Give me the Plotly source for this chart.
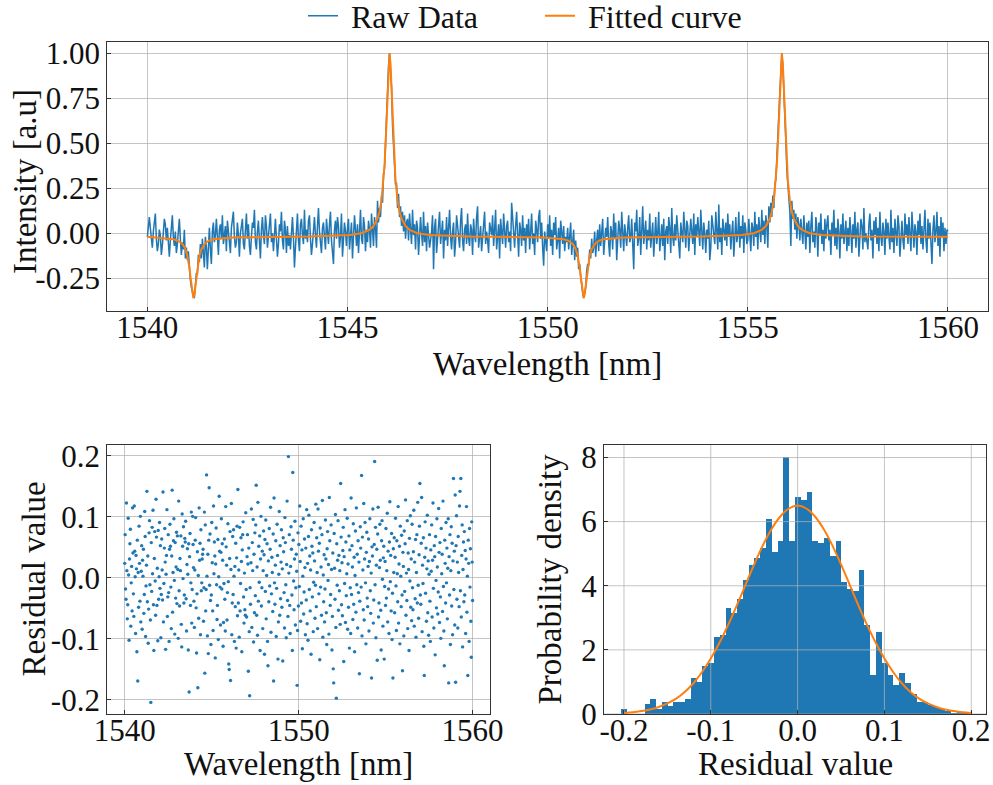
import numpy as np
import plotly.graph_objects as go

BLUE = "#1f77b4"
ORANGE = "#ff7f0e"
FONT = "Liberation Serif"
FRAME = "#333333"
GRID = "rgba(176,176,176,0.75)"

# ---------------- data ----------------
# Raw spectrum in units of 0.01 (a.u.), sampled every 0.025 nm from 1540.000 nm
# (one row = 0.5 nm)
raw_start_nm = 1540.0
raw_step_nm = 0.025
raw_rows_centi = [
    [-2, 4, 9, 3, -5, -8, 1, 6, 11, -3, -10, -6, 2, -1, -12, -7, 3, 8, 5, -4],
    [3, -9, -13, -4, 6, 10, -2, -7, 1, -11, -6, 5, 8, -3, -12, -5, -9, 2, -14, -8],
    [-15, -10, -21, -26, -30, -33, -35, -36, -27, -22, -23, -12, -16, -6, -14, -3, -11, -19, -2, -8],
    [-20, -4, 3, -9, -17, 1, 6, -5, -1, 8, -7, -12, 2, 5, -3, 10, -6, -2, 4, -10],
    [7, 1, -4, -11, 3, 9, 12, -2, -8, -5, 6, -1, -13, 0, 4, 8, -6, -9, 2, 11],
    [-3, 5, -7, -12, -2, 6, 3, 13, -5, -9, 1, 7, -4, -14, 2, 9, -1, -6, 10, 4],
    [-8, -2, 6, 11, -5, 0, -10, 3, 8, -3, -13, -6, 5, 1, 12, -4, -9, 7, 2, -11],
    [4, -7, -1, -9, 3, 9, -2, -19, -8, 1, 11, -4, -10, 5, 8, -1, -6, 13, -3, 2],
    [-5, 7, 10, -3, -12, -6, 2, 9, -1, -8, 4, 14, 1, -7, -11, 3, 6, -2, -9, 8],
    [0, -6, 5, 12, -4, -10, -17, 2, 7, -3, 9, 4, -8, -2, 11, -13, -5, 6, 1, -7],
    [3, 8, -9, -1, 6, -14, -4, 10, 2, -7, 5, -11, 1, 13, -3, -6, 9, 4, -10, 2],
    [-5, 7, 2, -8, 11, 4, -7, 9, 3, -8, 18, 6, 14, 9, 21, 17, 33, 36, 52, 61],
    [79, 93, 100, 92, 81, 60, 50, 35, 27, 28, 14, 22, 9, 15, 4, 12, 1, 10, -3, 6],
    [8, -4, 11, 2, -6, 13, -1, 5, -9, 7, 3, -12, -2, 9, 0, -7, 12, -5, 4, -10],
    [6, -3, -8, -4, 1, 10, -20, 3, 8, -11, -2, 5, 12, -6, -1, 7, -14, 2, -4, 9],
    [-7, 4, 13, -2, -9, 1, 6, -13, -5, 10, 3, -1, -8, 7, 14, -4, -10, 2, 5, -6],
    [11, -3, -7, 5, 2, -12, 8, -1, -5, 9, 15, -8, 0, 4, -10, -3, 7, 12, -6, 1],
    [-4, -11, 6, 3, -1, 10, -7, 2, 13, -9, -3, 5, -14, 8, 1, -6, 11, -2, -8, 4],
    [7, -5, 1, -10, 17, 9, -3, -8, 4, 12, -1, -13, 6, 2, -7, 10, -4, 3, -11, 5],
    [-2, 8, -9, 4, 11, -6, 0, -12, 7, 2, -5, 9, 13, -3, 6, -8, -18, 1, -4, -10],
    [5, -3, 10, -7, 2, -12, 6, -1, 9, -9, -4, 3, -14, 7, 1, -6, 4, -10, -2, -5],
    [3, -9, -2, 6, -12, -5, 2, -15, -4, -13, -8, -20, -17, -24, -31, -33, -36, -32, -30, -21],
    [-17, -18, -9, -14, -3, -11, -8, 1, -13, -4, 2, -10, 5, -7, -1, 8, -12, -5, 3, -2],
    [9, -6, -13, 4, 1, -9, 11, -3, 6, -15, -1, 7, 2, -8, 12, -4, -10, 5, 0, -7],
    [3, 10, -5, -2, 8, -11, -20, 6, 1, 13, -7, -3, 9, -12, 4, 15, -6, -1, 7, -9],
    [2, -4, 11, -8, -1, 6, -13, 3, 9, -6, 0, 12, -10, -3, 5, -7, 8, -15, 1, 4],
    [-6, 9, 3, -11, 14, -2, -7, 5, -4, 10, 1, -9, -14, 6, 2, -5, 12, -1, -8, 7],
    [4, -10, -3, 8, 1, -6, 11, -12, 5, -2, 9, 3, -7, 13, -4, -9, 6, 0, -11, 2],
    [-3, 7, -15, -8, 10, 4, -1, -6, 12, 2, -9, 16, -5, 3, -12, 8, 1, -4, 6, -7],
    [11, -2, 5, -9, 0, 7, -13, 3, 9, -5, -1, 12, -8, 4, -3, 10, -11, 6, 2, -6],
    [-4, 8, 1, -10, 6, 3, -7, 12, -2, 5, -9, 9, 2, -5, 13, -1, 7, -6, 10, 4],
    [-8, 15, 6, 17, 9, 21, 14, 27, 30, 41, 47, 66, 78, 95, 100, 93, 81, 62, 51, 35],
    [27, 25, 12, -7, 18, 8, 13, 2, 11, -3, 9, 5, -4, 8, 1, -6, 10, 3, -9, 6],
    [-2, 7, -11, 4, 12, -5, 1, -8, 9, 3, -13, 6, -1, 11, -6, 2, -10, 8, -3, 5],
    [10, -4, 2, -12, 6, -1, 13, -7, 3, -9, 8, 1, -14, 5, -3, 11, -6, 0, 7, -10],
    [3, -7, 9, 1, -11, 5, -3, 12, -8, 2, 6, -13, -1, 8, 4, -9, 14, -5, 0, -6],
    [-9, 5, 11, -4, 2, -14, 7, -1, 9, -6, 3, -10, 12, -2, -7, 6, 1, -12, 8, -3],
    [6, -2, -9, 13, -5, 3, -11, 8, 0, -7, 10, 4, -13, 2, 7, -4, -9, 11, -1, 5],
    [-6, 9, 2, -10, 12, -3, -8, 5, 1, -12, 7, -1, 11, -6, 4, -9, 3, 13, -4, -11],
    [8, -3, 6, -9, -17, 2, 10, -5, 1, 12, -7, 4, -13, 9, -2, 6, -10, 3, -6, 2],
    [1],
]

# Fitted curve
fit_wavelength = [
    1540.00, 1540.15, 1540.65, 1540.75, 1540.85, 1540.90, 1540.95, 1541.00, 1541.025, 1541.05,
    1541.075, 1541.10, 1541.125, 1541.15, 1541.175, 1541.20, 1541.225, 1541.25, 1541.275, 1541.30,
    1541.35, 1541.40, 1541.45, 1541.55, 1541.65, 1542.15, 1543.00,
    1544.05, 1545.05, 1545.35, 1545.55, 1545.65, 1545.75, 1545.80, 1545.85, 1545.90, 1545.925,
    1545.95, 1545.975, 1546.00, 1546.025, 1546.05, 1546.075, 1546.10, 1546.125, 1546.15, 1546.175,
    1546.20, 1546.25, 1546.30, 1546.35, 1546.45, 1546.55, 1546.75, 1547.05, 1548.05,
    1549.90, 1550.40, 1550.50, 1550.60, 1550.65, 1550.70, 1550.75, 1550.775, 1550.80, 1550.825,
    1550.85, 1550.875, 1550.90, 1550.925, 1550.95, 1550.975, 1551.00, 1551.025, 1551.05, 1551.10,
    1551.15, 1551.20, 1551.30, 1551.40, 1551.90, 1552.90,
    1553.85, 1554.85, 1555.15, 1555.35, 1555.45, 1555.55, 1555.60, 1555.65, 1555.70, 1555.725,
    1555.75, 1555.775, 1555.80, 1555.825, 1555.85, 1555.875, 1555.90, 1555.925, 1555.95, 1555.975,
    1556.00, 1556.05, 1556.10, 1556.15, 1556.25, 1556.35, 1556.55, 1556.85, 1557.85, 1560.00,
]
fit_intensity = [
    -0.020, -0.023, -0.033, -0.040, -0.054, -0.067, -0.088, -0.125, -0.153, -0.190,
    -0.238, -0.292, -0.340, -0.360, -0.340, -0.292, -0.238, -0.190, -0.153, -0.125,
    -0.088, -0.067, -0.054, -0.040, -0.033, -0.023, -0.021,
    -0.018, -0.010, 0.000, 0.019, 0.040, 0.082, 0.121, 0.184, 0.294, 0.378,
    0.490, 0.633, 0.796, 0.940, 1.000, 0.940, 0.796, 0.633, 0.490, 0.378,
    0.294, 0.184, 0.121, 0.082, 0.040, 0.019, 0.000, -0.010, -0.018,
    -0.023, -0.033, -0.040, -0.054, -0.067, -0.088, -0.125, -0.153, -0.190, -0.238,
    -0.292, -0.340, -0.360, -0.340, -0.292, -0.238, -0.190, -0.153, -0.125, -0.088,
    -0.067, -0.054, -0.040, -0.033, -0.023, -0.021,
    -0.018, -0.010, 0.000, 0.019, 0.040, 0.082, 0.121, 0.184, 0.294, 0.378,
    0.490, 0.633, 0.796, 0.940, 1.000, 0.940, 0.796, 0.633, 0.490, 0.378,
    0.294, 0.184, 0.121, 0.082, 0.040, 0.019, 0.000, -0.010, -0.018, -0.020,
]

# Residuals in units of 0.001, evenly spread over 1540-1560 nm (one row = 0.5 nm)
residual_start_nm = 1540.0
residual_end_nm = 1560.0
residual_rows_milli = [
    [24, 71, -18, -35, 123, 12, -67, -44, 98, 5, -102, 31, 56, 80, -79, -8, 19, -54, 115, 41],
    [-26, -63, 118, 44, 2, -91, 37, 15, -121, 62, -169, 9, -48, 85, 24, -38, 101, -72, 11, 53],
    [-84, 29, 3, 47, -58, -27, 109, 68, -96, -13, 21, 142, -39, 36, -107, -51, 74, 94, -11, -69],
    [-204, 58, -22, 83, 7, 111, -44, -119, 32, 76, -5, -61, 129, 67, -45, 16, -103, 78, -35, 2],
    [91, -17, 53, -98, -27, 64, 13, -36, 141, -72, -9, 49, 81, 26, -117, 6, 37, 112, -63, -31],
    [71, -24, -104, 47, 88, 52, -15, -83, 36, 144, -56, 9, 61, 97, -4, -92, 58, -33, 18, 75],
    [-42, 69, 14, -99, 126, -21, -46, 32, 12, 69, -76, -113, 105, 52, -1, 84, -41, -28, 65, 59],
    [93, -34, -87, 22, 48, 6, -118, 56, -187, 35, 73, -45, -8, 108, -74, -19, 101, 55, 17, -38],
    [-81, 13, 62, 99, -49, -123, -26, 43, -180, 4, -66, 115, 29, 57, -93, 79, -21, -8, 31, 39],
    [47, -71, -16, 108, -156, 87, -54, -19, 169, 3, -95, 39, -124, 62, 148, -12, 72, -37, -109, -28],
    [91, 25, -54, -86, 118, 7, 59, 36, -131, 23, 82, -11, -68, -45, 63, -101, 2, 134, 44, -15],
    [-77, 42, 97, -18, 56, 29, -112, -73, -9, 64, -35, -87, 117, 51, 21, -69, -24, 89, -6, -141],
    [-150, 32, 76, -168, 14, 122, -93, -41, 68, -27, 79, 3, -104, 19, -47, 57, -115, 33, 85, -62],
    [145, -41, 13, -97, 83, -54, -9, 66, 27, -121, 46, 71, 92, -31, -74, 8, -52, -61, 107, -19],
    [-64, 35, 71, 23, -153, 49, -88, -193, -16, -43, 25, 113, -81, 58, 12, 96, -105, 39, -57, 74],
    [-29, 87, 152, -61, 18, -94, 124, -38, 52, -7, 69, -119, 31, 101, -46, -16, 44, -83, 12, 77],
    [38, -125, 63, -22, 95, -67, 4, 56, -104, -144, 28, -39, 81, -13, 47, 116, -89, -26, 34, 9],
    [-55, 72, -169, 131, -8, -43, 21, 61, -96, -17, 88, 37, -133, -72, 6, 109, -61, 53, -34, 26],
    [79, -48, 15, -136, 66, 43, -24, -82, 99, 58, -11, -98, 22, 126, -37, -63, 199, 8, 71, -45],
    [-91, 19, 84, 47, -28, -119, 173, 62, -5, -52, 31, 93, -77, -16, 39, 11, -176, -86, 74, -46],
    [55, -14, 118, 27, -71, 85, -41, 46, -116, 3, 97, -59, -23, 64, 17, -93, 49, -36, 112, -75],
    [24, -102, 68, 103, -19, 36, -54, 13, -125, 79, 52, -31, 41, -88, -7, 91, 28, -66, -12, 121],
    [-47, 66, 9, -83, 113, 44, -26, 57, -134, 82, -15, 18, -61, 71, 127, -97, 5, -39, 38, -72],
    [-18, 95, 31, -57, -109, 48, 76, -4, 22, -92, 132, 61, -45, -27, 87, 14, -118, -63, 41, -149],
    [-172, 73, 16, -35, 104, -81, -197, 56, -12, 29, 94, -53, 37, -21, 12, -76, 155, 67, -44, 25],
    [-62, 45, 83, -137, 35, -9, 112, -73, 59, -29, 7, 98, -84, 23, -48, 69, -115, 46, -16, -91],
    [131, -27, 53, 18, -68, 89, -43, 34, -121, 4, 77, -56, 115, -11, 39, -82, 61, -24, 26, -157],
    [-38, 84, 49, -15, 168, -95, 67, 13, -52, 122, -69, 31, 91, -8, -108, 42, 75, -33, -47, 19],
    [64, -87, 27, 97, -21, -58, 8, -164, 51, 36, 113, -74, -36, 55, 191, -11, 83, -98, 21, 47],
    [-135, 72, 116, -64, -41, 17, 88, 29, -53, -118, 61, 94, -2, -79, 33, 52, -133, -14, 27, -45],
    [81, -33, 12, 106, -72, 44, -18, -91, 59, 125, -6, 37, -54, 73, -101, -25, -164, 48, 9, 66],
    [-57, 34, 98, -13, -86, 61, 7, -39, 117, -74, 23, 52, -108, 85, 3, -47, 70, -28, -152, 42],
    [19, -95, 77, -22, 56, 128, -61, 8, -37, 94, -83, 41, 14, -119, 65, -5, 102, -48, 31, -70],
    [88, -16, -52, 43, 111, -79, 26, -34, 63, -97, 9, 71, -41, 124, -12, -66, 38, 85, 155, -28],
    [-43, 57, 132, -88, 21, -9, 66, -112, -160, 34, 92, -25, 49, -71, 15, 103, -57, 28, -94, 6],
    [71, -38, -104, 46, 11, 87, -64, 29, 123, -17, -82, 53, 35, -126, 68, -4, -49, 97, 18, -59],
    [-23, 114, 42, -73, 58, -31, -99, 81, 7, 39, -55, 126, -14, -87, -144, 62, 24, -41, 91, -8],
    [49, -67, 16, 97, -172, 35, -28, 71, -109, 12, 84, -46, 57, -93, 28, 163, -19, 44, -77, 136],
    [-171, 53, 102, -35, 26, -82, 68, 9, -47, 118, 142, -21, 163, -64, 37, 87, -113, 14, 59, -39],
    [76, -28, 45, -91, 31, 117, -56, 3, -160, 62, 24, -104, 81, -15, 48, -71, -130, 92, 26, -37],
]

# Histogram of residuals (probability density), 60 bins
hist_first_edge = -0.203
hist_bin_width = 0.4 / 60
hist_density = [
    0.16, 0.00, 0.00, 0.00, 0.31, 0.47, 0.15, 0.38, 0.26, 0.38,
    0.38, 0.47, 1.13, 1.00, 1.50, 1.60, 2.41, 2.48, 3.32, 3.17,
    3.60, 4.20, 4.67, 4.89, 5.20, 6.08, 5.05, 5.42, 8.02, 5.42,
    6.77, 6.68, 6.93, 5.42, 5.33, 5.49, 4.95, 5.42, 4.14, 3.90,
    3.86, 4.51, 2.79, 1.22, 2.56, 1.59, 1.22, 0.91, 1.28, 0.99,
    0.62, 0.39, 0.38, 0.30, 0.24, 0.18, 0.10, 0.05, 0.08, 0.08,
]

# Gaussian fit over the histogram
gauss_x = [-0.20, -0.19, -0.18, -0.17, -0.16, -0.15, -0.14, -0.13, -0.12, -0.11, -0.10,
           -0.09, -0.08, -0.07, -0.06, -0.05, -0.04, -0.03, -0.02, -0.01, 0.00,
           0.01, 0.02, 0.03, 0.04, 0.05, 0.06, 0.07, 0.08, 0.09, 0.10,
           0.11, 0.12, 0.13, 0.14, 0.15, 0.16, 0.17, 0.18, 0.19, 0.20]
gauss_y = [0.032, 0.054, 0.09, 0.14, 0.22, 0.33, 0.48, 0.69, 0.96, 1.31, 1.73,
           2.22, 2.78, 3.39, 4.03, 4.67, 5.26, 5.77, 6.16, 6.41, 6.50,
           6.41, 6.16, 5.77, 5.26, 4.67, 4.03, 3.39, 2.78, 2.22, 1.73,
           1.31, 0.96, 0.69, 0.48, 0.33, 0.22, 0.14, 0.09, 0.054, 0.032]

# Tick labels
top_x_ticks = [1540, 1545, 1550, 1555, 1560]
top_y_ticks = [-0.25, 0.0, 0.25, 0.5, 0.75, 1.0]
top_y_labels = ["-0.25", "0.00", "0.25", "0.50", "0.75", "1.00"]
res_x_ticks = [1540, 1550, 1560]
res_y_ticks = [-0.2, -0.1, 0.0, 0.1, 0.2]
res_y_labels = ["-0.2", "-0.1", "0.0", "0.1", "0.2"]
hist_x_ticks = [-0.2, -0.1, 0.0, 0.1, 0.2]
hist_x_labels = ["-0.2", "-0.1", "0.0", "0.1", "0.2"]
hist_y_ticks = [0, 2, 4, 6, 8]

# ---------------- derived ----------------
raw_intensity = np.array([v for row in raw_rows_centi for v in row]) / 100.0
raw_wavelength = raw_start_nm + raw_step_nm * np.arange(len(raw_intensity))
residuals = np.array([v for row in residual_rows_milli for v in row]) / 1000.0
residual_wavelength = np.linspace(residual_start_nm, residual_end_nm, len(residuals))
hist_centers = hist_first_edge + hist_bin_width * (np.arange(len(hist_density)) + 0.5)

W, H = 993, 785


def px_x(p):
    return p / W


def px_y(p):
    return 1 - p / H


fig = go.Figure()

# Top: spectrum
fig.add_trace(go.Scatter(x=raw_wavelength, y=raw_intensity, mode="lines",
                         line=dict(color=BLUE, width=1.5), name="\u00a0Raw Data",
                         xaxis="x", yaxis="y"))
fig.add_trace(go.Scatter(x=fit_wavelength, y=fit_intensity, mode="lines",
                         line=dict(color=ORANGE, width=2), name="\u00a0Fitted curve",
                         xaxis="x", yaxis="y"))

# Bottom-left: residual scatter
fig.add_trace(go.Scatter(x=residual_wavelength, y=residuals, mode="markers",
                         marker=dict(color=BLUE, size=3.4, line=dict(width=0)),
                         showlegend=False, xaxis="x2", yaxis="y2"))

# Bottom-right: histogram
fig.add_trace(go.Bar(x=hist_centers, y=hist_density, width=hist_bin_width,
                     marker=dict(color=BLUE, line=dict(width=0)),
                     showlegend=False, xaxis="x3", yaxis="y3"))
# grid lines drawn over the bars (as in the reference)
hist_xrange = [-0.223, 0.217]
hist_yrange = [0, 8.4]
gx, gy = [], []
for t in hist_x_ticks:
    gx += [t, t, None]
    gy += [hist_yrange[0], hist_yrange[1], None]
for t in hist_y_ticks:
    gx += [hist_xrange[0], hist_xrange[1], None]
    gy += [t, t, None]
fig.add_trace(go.Scatter(x=gx, y=gy, mode="lines", line=dict(color=GRID, width=1),
                         hoverinfo="skip", showlegend=False, xaxis="x3", yaxis="y3"))
fig.add_trace(go.Scatter(x=gauss_x, y=gauss_y, mode="lines", line=dict(color=ORANGE, width=2, shape="spline"),
                         showlegend=False, xaxis="x3", yaxis="y3"))

tickfont = dict(family=FONT, size=31, color="#111111")
common = dict(showline=True, mirror=True, linecolor=FRAME, linewidth=1.3,
              ticks="inside", ticklen=4, tickwidth=1.3, tickcolor=FRAME,
              showgrid=True, gridcolor=GRID, gridwidth=1, zeroline=False,
              tickfont=tickfont, fixedrange=True, automargin=False)
xcommon = dict(common, ticklabelstandoff=-11)

fig.update_layout(
    width=W, height=H, autosize=False,
    margin=dict(l=0, r=0, t=0, b=0, pad=0, autoexpand=False),
    paper_bgcolor="white", plot_bgcolor="white",
    font=dict(family=FONT, size=30, color="#111111"),
    bargap=0,
    xaxis=dict(domain=[px_x(107.3), px_x(988)], anchor="y", range=[1539, 1561],
               tickvals=top_x_ticks, ticktext=[str(t) for t in top_x_ticks], **xcommon),
    yaxis=dict(domain=[px_y(311), px_y(42)], anchor="x", range=[-0.432, 1.063],
               tickvals=top_y_ticks, ticktext=top_y_labels, **common),
    xaxis2=dict(domain=[px_x(107.3), px_x(490)], anchor="y2", range=[1539, 1561],
                tickvals=res_x_ticks, ticktext=[str(t) for t in res_x_ticks], **xcommon),
    yaxis2=dict(domain=[px_y(714), px_y(445)], anchor="x2", range=[-0.223, 0.218],
                tickvals=res_y_ticks, ticktext=res_y_labels, **common),
    xaxis3=dict(domain=[px_x(604), px_x(986)], anchor="y3", range=hist_xrange,
                tickvals=hist_x_ticks, ticktext=hist_x_labels,
                **{**xcommon, "showgrid": False}),
    yaxis3=dict(domain=[px_y(714), px_y(444.7)], anchor="x3", range=hist_yrange,
                tickvals=hist_y_ticks, ticktext=[str(t) for t in hist_y_ticks],
                **{**common, "showgrid": False}),
    legend=dict(orientation="h", x=px_x(303), xanchor="left", xref="container",
                y=px_y(16), yanchor="middle", yref="container",
                font=dict(family=FONT, size=32, color="#111111"), bgcolor="rgba(0,0,0,0)",
                entrywidth=192, entrywidthmode="pixels", itemwidth=30),
)

title_font = dict(family=FONT, size=33, color="#111111")
annotations = [
    dict(text="Wavelength [nm]", x=px_x(547.5), y=px_y(364)),
    dict(text="Intensity [a.u]", x=px_x(25), y=px_y(182), textangle=-90),
    dict(text="Wavelength [nm]", x=px_x(298.7), y=px_y(764)),
    dict(text="Residual value", x=px_x(33), y=px_y(579.5), textangle=-90),
    dict(text="Residual value", x=px_x(795), y=px_y(764)),
    dict(text="Probability density", x=px_x(549), y=px_y(579.5), textangle=-90),
]
for a in annotations:
    fig.add_annotation(xref="paper", yref="paper", xanchor="center", yanchor="middle",
                       showarrow=False, font=title_font, **a)

fig.write_html("out.html", config={"displayModeBar": False},
               post_script="document.body.style.margin='0';document.body.style.padding='0';")
